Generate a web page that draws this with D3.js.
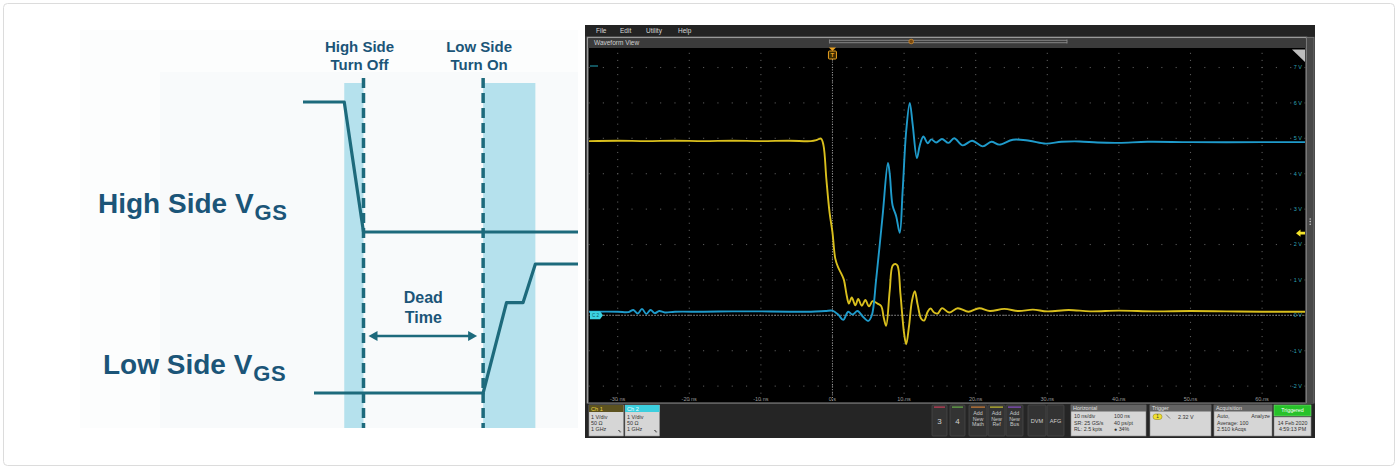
<!DOCTYPE html>
<html><head><meta charset="utf-8">
<script src="https://cdn.jsdelivr.net/npm/d3@7"></script>
<style>
html,body{margin:0;padding:0;background:#fff;}
svg{display:block;}
text{font-family:"Liberation Sans",Arial,sans-serif;}
</style></head>
<body>
<svg id="c" width="1398" height="469"></svg>
<script>
// ---------------- DATA ----------------
// Left schematic (time in arbitrary units 0..100, level 0..1)
const highSideVgs = [[0,1],[15,1],[22,0],[100,0]];
const lowSideVgs  = [[4,0],[65.5,0],[74,0.7],[80,0.7],[84.5,1],[100,1]];
const eventMarkers = [22, 65.5];
const eventLabels  = [["High Side","Turn Off"],["Low Side","Turn On"]];
const shadedBands  = [[15,22],[65.5,84.5]];
const signalNames  = ["High Side V","Low Side V"];
const signalSub    = "GS";
const deadTimeLabel = ["Dead","Time"];

// Oscilloscope capture (time in ns, volts)
const timeTicks = [-30,-20,-10,0,10,20,30,40,50,60];
const timeTickLabels = ["-30 ns","-20 ns","-10 ns","0 s","10 ns","20 ns","30 ns","40 ns","50 ns","60 ns"];
const voltTicks = [-2,-1,0,1,2,3,4,5,6,7];
const voltTickLabels = ["-2 V","-1 V","0 V","1 V","2 V","3 V","4 V","5 V","6 V","7 V"];
const triggerLevel = 2.32;
const ch1 = [[-34,4.92],[-30,4.93],[-26,4.92],[-22,4.93],[-18,4.92],[-14,4.93],[-10,4.92],[-6,4.93],[-3,4.92],[-2.2,4.95],[-1.6,4.99],[-1.25,4.8],
 [-0.85,3.85],[-0.4,2.9],[0,2.35],[0.4,1.6],[0.8,1.35],[1.3,1.15],[1.6,1.0],[2.0,0.55],[2.3,0.33],[2.7,0.5],[3.2,0.28],[3.6,0.46],
 [4.1,0.27],[4.6,0.43],[5.1,0.25],[5.6,0.4],[6.3,0.33],[6.8,0.26],[7.2,-0.1],[7.5,-0.3],[8.0,0.7],[8.4,1.4],[8.8,1.45],[9.1,1.4],
 [9.5,0.6],[10.0,-0.5],[10.3,-0.82],[10.7,-0.3],[11.1,0.4],[11.5,0.68],[11.9,0.3],[12.4,-0.1],[12.8,-0.15],[13.3,0.1],[13.7,0.19],
 [14.2,0.08],[14.7,0.05],[15.3,0.2],[16.3,0.08],[17.5,0.2],[19,0.1],[20.5,0.2],[22,0.12],[24,0.18],[26,0.12],[28,0.16],[30,0.11],
 [33,0.15],[36,0.11],[40,0.13],[45,0.11],[50,0.12],[55,0.11],[60,0.1],[66,0.1]];
const ch2 = [[-34,0.1],[-30,0.1],[-28.5,0.09],[-27.8,0.15],[-27.2,0.05],[-26.6,0.18],[-26,0.04],[-25.4,0.15],[-24.8,0.06],[-24.2,0.12],
 [-23.4,0.08],[-22,0.1],[-18,0.1],[-14,0.11],[-10,0.11],[-6,0.1],[-3,0.1],[-1,0.12],[0,0.13],[0.8,0.02],[1.5,-0.13],[2.2,0.1],
 [2.8,0.02],[3.5,0.12],[4.3,-0.05],[5.0,-0.16],[5.5,0.0],[6.1,1.0],[7.0,2.8],[7.75,4.3],[8.0,4.0],[8.4,3.1],[8.9,2.8],[9.4,2.33],
 [9.8,3.5],[10.3,5.2],[10.8,6.0],[11.2,5.4],[11.8,4.44],[12.2,4.8],[12.7,5.05],[13.3,4.86],[13.8,4.97],[14.5,4.88],[15.3,4.98],
 [16.2,4.87],[17.0,5.0],[18.2,4.8],[19.5,4.93],[21,4.77],[22.2,4.9],[23.3,4.82],[25.2,4.96],[27.5,4.93],[29.8,4.85],[32,4.9],
 [34.5,4.91],[37,4.88],[40,4.87],[44,4.9],[50,4.89],[60,4.89],[66,4.89]];
const menuItems = ["File","Edit","Utility","Help"];
const chBoxes = [{name:"Ch 1",lines:["1 V/div","50 Ω","1 GHz"]},{name:"Ch 2",lines:["1 V/div","50 Ω","1 GHz"]}];
const buttons = [{lines:["3"],c:"#c8405a"},{lines:["4"],c:"#6ab04a"},{lines:["Add","New","Math"],c:"#d0803a"},
 {lines:["Add","New","Ref"],c:"#c8c030"},{lines:["Add","New","Bus"],c:"#8a50c8"},{lines:["DVM"],c:null},{lines:["AFG"],c:null}];
const horizontalInfo = [["10 ns/div","SR: 25 GS/s","RL: 2.5 kpts"],["100 ns","40 ps/pt","● 34%"]];
const acquisitionInfo = ["Auto,","Average: 100","2.510 kAcqs"];
const dateInfo = ["14 Feb 2020","4:59:13 PM"];

// ---------------- DRAW ----------------
const svg = d3.select("#c");
svg.append("rect").attr("x",3.5).attr("y",3.5).attr("width",1391).attr("height",462).attr("rx",4)
  .attr("fill","#fff").attr("stroke","#dcdcdc");

// ===== Left schematic =====
const L = svg.append("g");
const dx = d3.scaleLinear().domain([0,100]).range([303,578]);
const hy = d3.scaleLinear().domain([0,1]).range([232,102]);
const ly = d3.scaleLinear().domain([0,1]).range([393,264]);
const dTop = 83, dBot = 428;
const ink = "#1d6a7c", txt = "#1b5578";

L.append("rect").attr("x",80).attr("y",30).attr("width",498).attr("height",dBot-30).attr("fill","#fcfdfd");
L.append("rect").attr("x",160).attr("y",72).attr("width",418).attr("height",dBot-72).attr("fill","#f8fafb");
L.selectAll("rect.band").data(shadedBands).join("rect").attr("class","band")
  .attr("x",d=>dx(d[0])).attr("width",d=>dx(d[1])-dx(d[0])).attr("y",dTop).attr("height",dBot-dTop).attr("fill","#b5e1ed");
L.selectAll("line.mk").data(eventMarkers).join("line").attr("class","mk")
  .attr("x1",d=>dx(d)).attr("x2",d=>dx(d)).attr("y1",78).attr("y2",dBot)
  .attr("stroke",ink).attr("stroke-width",3.5).attr("stroke-dasharray","10,5");
const dline = (ys)=>d3.line().x(d=>dx(d[0])).y(d=>ys(d[1]));
L.append("path").attr("d",dline(hy)(highSideVgs)).attr("fill","none").attr("stroke",ink).attr("stroke-width",3.2).attr("stroke-linejoin","round");
L.append("path").attr("d",dline(ly)(lowSideVgs)).attr("fill","none").attr("stroke",ink).attr("stroke-width",3.2).attr("stroke-linejoin","round");

eventLabels.forEach((lab,i)=>{
  const t = L.append("text").attr("x",dx(eventMarkers[i])-4).attr("text-anchor","middle")
    .attr("font-size",15).attr("font-weight","bold").attr("fill",txt);
  t.append("tspan").attr("x",dx(eventMarkers[i])-4).attr("y",52).text(lab[0]);
  t.append("tspan").attr("x",dx(eventMarkers[i])-4).attr("y",70).text(lab[1]);
});
// Dead time arrow
const ax1 = dx(eventMarkers[0])+5, ax2 = dx(eventMarkers[1])-6, ay = 336;
L.append("line").attr("x1",ax1+6).attr("x2",ax2-6).attr("y1",ay).attr("y2",ay).attr("stroke",ink).attr("stroke-width",2.5);
L.append("path").attr("d",`M${ax1},${ay}L${ax1+9},${ay-5}L${ax1+9},${ay+5}Z`).attr("fill",ink);
L.append("path").attr("d",`M${ax2},${ay}L${ax2-9},${ay-5}L${ax2-9},${ay+5}Z`).attr("fill",ink);
const mid = (dx(eventMarkers[0])+dx(eventMarkers[1]))/2;
L.append("text").attr("x",mid).attr("y",303).attr("text-anchor","middle").attr("font-size",16).attr("font-weight","bold").attr("fill",txt).text(deadTimeLabel[0]);
L.append("text").attr("x",mid).attr("y",323).attr("text-anchor","middle").attr("font-size",16).attr("font-weight","bold").attr("fill",txt).text(deadTimeLabel[1]);

// Signal names
[[98,hy(0)-19],[103,ly(0)-19]].forEach((p,i)=>{
  const t = L.append("text").attr("x",p[0]).attr("y",p[1]).attr("font-weight","bold").attr("fill",txt);
  t.append("tspan").attr("font-size",28).text(signalNames[i]);
  t.append("tspan").attr("font-size",22).attr("dx",1).attr("dy",7).attr("letter-spacing",0.5).text(signalSub);
});

// ===== Oscilloscope =====
const S = svg.append("g");
const X0 = 585, X1 = 1315, Y0 = 25, Y1 = 438;
S.append("rect").attr("x",X0).attr("y",Y0).attr("width",X1-X0).attr("height",Y1-Y0).attr("fill","#2c2c2c");
S.append("rect").attr("x",X0).attr("y",Y0).attr("width",X1-X0).attr("height",11).attr("fill","#232323");
const menuX = [596,620,646,678];
S.selectAll("text.menu").data(menuItems).join("text").attr("class","menu")
  .attr("x",(d,i)=>menuX[i]).attr("y",33.2).attr("font-size",6.5).attr("fill","#d8d8d8").text(d=>d);

const xS = d3.scaleLinear().domain([-34,66]).range([589,1305]);
const yS = d3.scaleLinear().domain([-2.45,7.55]).range([402,48]);
const pL = xS.range()[0], pR = xS.range()[1], pT = yS.range()[1], pB = yS.range()[0];

// waveform view frame
S.append("rect").attr("x",587.5).attr("y",37.5).attr("width",719).attr("height",366).attr("fill","none").attr("stroke","#9a9a9a").attr("stroke-width",1.5);
S.append("rect").attr("x",588.3).attr("y",38.3).attr("width",717.5).attr("height",pT-38.3).attr("fill","#3b3b3b");
S.append("text").attr("x",594).attr("y",44.6).attr("font-size",6.5).attr("fill","#cfcfcf").text("Waveform View");
S.append("rect").attr("x",pL).attr("y",pT).attr("width",pR-pL).attr("height",pB-pT).attr("fill","#000");

// zoom slider on title bar
S.append("path").attr("d",`M${xS(0)-3},39.5V43.5M${xS(0)-3},40.3H1067M${xS(0)-3},42.7H1067M1067,39.5V43.5`)
  .attr("stroke","#8c8c8c").attr("stroke-width",0.9).attr("fill","none");
S.append("circle").attr("cx",xS(11)).attr("cy",41.5).attr("r",2.3).attr("fill","#7a4a10").attr("stroke","#d08a2a").attr("stroke-width",0.8);

// grid dots
const minorT = d3.range(-34,66.01,2);
const minorV = d3.range(-2.4,7.55,0.2);
const gridG = S.append("g").attr("fill","#5a5a5a");
voltTicks.forEach(v=>{
  gridG.selectAll(null).data(minorT).join("rect").attr("x",d=>xS(d)-0.5).attr("y",yS(v)-0.5).attr("width",1.1).attr("height",1.1);
});
timeTicks.forEach(t=>{
  gridG.selectAll(null).data(minorV).join("rect").attr("x",xS(t)-0.5).attr("y",d=>yS(d)-0.5).attr("width",1.1).attr("height",1.1);
});
// reference lines (0 V and trigger time)
S.append("line").attr("x1",xS(-32)).attr("x2",pR).attr("y1",yS(0)).attr("y2",yS(0))
  .attr("stroke","#9a9a9a").attr("stroke-width",1).attr("stroke-dasharray","1.5,1.5");
S.append("line").attr("x1",xS(0)).attr("x2",xS(0)).attr("y1",59).attr("y2",pB)
  .attr("stroke","#a0a0a0").attr("stroke-width",1).attr("stroke-dasharray","1,1.6");

// axis labels
S.selectAll("text.tl").data(timeTicks).join("text").attr("class","tl")
  .attr("x",d=>xS(d)).attr("y",400.5).attr("text-anchor","middle").attr("font-size",5.5).attr("fill","#9a9a9a")
  .text((d,i)=>timeTickLabels[i]);
S.selectAll("text.vl").data(voltTicks).join("text").attr("class","vl")
  .attr("x",1302).attr("y",d=>yS(d)+2).attr("text-anchor","end").attr("font-size",5.5).attr("fill","#2fa3b8")
  .text((d,i)=>voltTickLabels[i]);

// waveforms
const wl = d3.line().x(d=>xS(d[0])).y(d=>yS(d[1])).curve(d3.curveCatmullRom.alpha(0.5));
S.append("clipPath").attr("id","pc").append("rect").attr("x",pL).attr("y",pT).attr("width",pR-pL).attr("height",pB-pT);
S.append("path").attr("d",wl(ch1)).attr("fill","none").attr("stroke","#d9bf1d").attr("stroke-width",1.9).attr("clip-path","url(#pc)");
S.append("path").attr("d",wl(ch2)).attr("fill","none").attr("stroke","#1f9bcb").attr("stroke-width",1.9).attr("clip-path","url(#pc)");

// markers
S.append("path").attr("d",`M${xS(0)-3.6},47.5L${xS(0)+3.6},47.5L${xS(0)},51Z`).attr("fill","#e8a020");
S.append("rect").attr("x",xS(0)-4).attr("y",51).attr("width",8).attr("height",8).attr("rx",1).attr("fill","#3a2a00").attr("stroke","#e8a020").attr("stroke-width",1);
S.append("text").attr("x",xS(0)).attr("y",57.3).attr("text-anchor","middle").attr("font-size",6).attr("font-weight","bold").attr("fill","#e8a020").text("T");
S.append("line").attr("x1",590).attr("x2",598).attr("y1",66).attr("y2",66).attr("stroke","#1f8a9a").attr("stroke-width",1.2);
const c2y = yS(0);
S.append("path").attr("d",`M590,${c2y-4}H600L603,${c2y}L600,${c2y+4}H590Z`).attr("fill","#3cd2e2");
S.append("text").attr("x",595.5).attr("y",c2y+1.8).attr("text-anchor","middle").attr("font-size",4.5).attr("fill","#0a5a66").text("C 2");
const ty = yS(triggerLevel);
S.append("path").attr("d",`M1296,${ty}L1300.5,${ty-3.6}V${ty-1.3}H1305V${ty+1.3}H1300.5V${ty+3.6}Z`).attr("fill","#f2e22a");
S.append("path").attr("d",`M1292,${pT+1.5}H1305V${pT+14}Z`).attr("fill","#bdbdbd");
// right scrollbar
S.append("rect").attr("x",1306.5).attr("y",37.5).attr("width",7.5).attr("height",366).attr("fill","#484848").attr("stroke","#7a7a7a").attr("stroke-width",0.8);
S.selectAll("circle.sd").data([0,1,2]).join("circle").attr("class","sd").attr("cx",1310.2).attr("cy",d=>219+d*2.6).attr("r",0.8).attr("fill","#c8c8c8");

// ===== bottom bar =====
const B = S.append("g");
B.append("rect").attr("x",X0).attr("y",403.5).attr("width",X1-X0).attr("height",Y1-403.5).attr("fill","#252525");
const chHead = ["#5c5220","#3ccfdf"], chHeadTxt = ["#f0d840","#f4ffff"];
chBoxes.forEach((c,i)=>{
  const x = 589 + i*36;
  B.append("rect").attr("x",x).attr("y",405).attr("width",34.5).attr("height",31).attr("fill","#d6d6d6").attr("stroke","#9a9a9a").attr("stroke-width",0.6);
  B.append("rect").attr("x",x).attr("y",405).attr("width",34.5).attr("height",7).attr("fill",chHead[i]);
  B.append("text").attr("x",x+2).attr("y",410.6).attr("font-size",5.6).attr("fill",chHeadTxt[i]).text(c.name);
  c.lines.forEach((l,j)=>B.append("text").attr("x",x+2).attr("y",418.6+j*6.4).attr("font-size",5.4).attr("fill","#333").text(l));
  B.append("path").attr("d",`M${x+29},${430.5}h1.6v1.4h1.6`).attr("stroke","#444").attr("stroke-width",0.7).attr("fill","none");
});
const btnX = [932,950,969,988,1006,1028,1047], btnW = [15,15,18,17,17,18,17];
buttons.forEach((b,i)=>{
  const x = btnX[i], w = btnW[i];
  B.append("rect").attr("x",x).attr("y",405).attr("width",w).attr("height",31).attr("rx",1).attr("fill","#333").attr("stroke","#4a4a4a").attr("stroke-width",0.7);
  if(b.c) B.append("rect").attr("x",x+2).attr("y",406.5).attr("width",w-4).attr("height",1.2).attr("fill",b.c);
  if(b.lines.length===1){
    const big = /^[0-9]$/.test(b.lines[0]);
    B.append("text").attr("x",x+w/2).attr("y",big?424:422.5).attr("text-anchor","middle").attr("font-size",big?8:5.6).attr("fill","#d0d0d0").text(b.lines[0]);
  } else b.lines.forEach((l,j)=>B.append("text").attr("x",x+w/2).attr("y",415+j*5.6).attr("text-anchor","middle").attr("font-size",5.3).attr("fill","#c8c8c8").text(l));
});
function panel(x,w,title){
  B.append("rect").attr("x",x).attr("y",405).attr("width",w).attr("height",31).attr("fill","#d6d6d6").attr("stroke","#8a8a8a").attr("stroke-width",0.6);
  B.append("rect").attr("x",x).attr("y",405).attr("width",w).attr("height",6.5).attr("fill","#646464");
  B.append("text").attr("x",x+2).attr("y",410.2).attr("font-size",5.4).attr("fill","#e0e0e0").text(title);
}
panel(1071,75,"Horizontal");
horizontalInfo.forEach((col,k)=>col.forEach((l,j)=>B.append("text").attr("x",k?1114:1074).attr("y",418.4+j*6.4).attr("font-size",5.3).attr("fill","#333").text(l)));
panel(1150,61,"Trigger");
B.append("rect").attr("x",1153).attr("y",414).attr("width",9).attr("height",5.5).attr("rx",2.7).attr("fill","#f0e030").attr("stroke","#8a7a10").attr("stroke-width",0.5);
B.append("text").attr("x",1157.5).attr("y",418.3).attr("text-anchor","middle").attr("font-size",4.6).attr("fill","#333").text("1");
B.append("path").attr("d","M1166,414.5L1170,418.5").attr("stroke","#555").attr("stroke-width",0.7);
B.append("text").attr("x",1178).attr("y",418.6).attr("font-size",5.4).attr("fill","#333").text(triggerLevel.toFixed(2)+" V");
panel(1214,58,"Acquisition");
acquisitionInfo.forEach((l,j)=>B.append("text").attr("x",1217).attr("y",418.4+j*6.4).attr("font-size",5.3).attr("fill","#333").text(l));
B.append("text").attr("x",1270).attr("y",418.4).attr("text-anchor","end").attr("font-size",5.3).attr("fill","#333").text("Analyze");
B.append("rect").attr("x",1274).attr("y",405).attr("width",37).attr("height",11).attr("fill","#27c22a").attr("stroke","#7ce07c").attr("stroke-width",0.6);
B.append("text").attr("x",1292.5).attr("y",412.3).attr("text-anchor","middle").attr("font-size",5.3).attr("fill","#fff").text("Triggered");
B.append("rect").attr("x",1274).attr("y",417).attr("width",37).attr("height",19).attr("fill","#d6d6d6").attr("stroke","#8a8a8a").attr("stroke-width",0.6);
dateInfo.forEach((l,j)=>B.append("text").attr("x",1292.5).attr("y",424.5+j*6.4).attr("text-anchor","middle").attr("font-size",5.3).attr("fill","#333").text(l));
</script>
</body></html>
